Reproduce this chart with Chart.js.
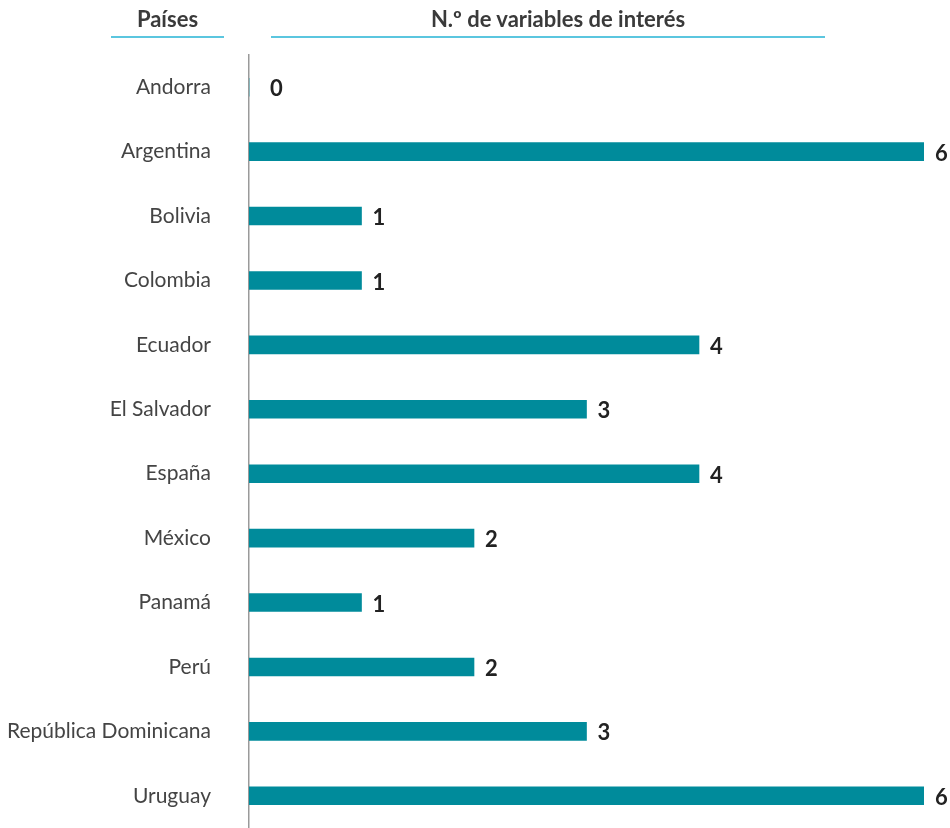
<!DOCTYPE html>
<html>
<head>
<meta charset="utf-8">
<script src="https://cdn.jsdelivr.net/npm/chart.js@4/dist/chart.umd.min.js"></script>
<style>
  html, body { margin: 0; padding: 0; background: #fff; }
  #wrap { position: relative; width: 950px; height: 828px; }
  #chart { position: absolute; left: 0; top: 0; }
  .hdr { position: absolute; top: 5px; font-family: Lato, sans-serif; font-weight: bold; font-size: 22px; line-height: 28px; color: #3a3a3a; text-align: center; border-bottom: 2px solid #5bc6df; padding-bottom: 3px; }
</style>
</head>
<body>
<div id="wrap">
  <canvas id="chart" width="950" height="828"></canvas>
  <div class="hdr" style="left:111px; width:113px;">Países</div>
  <div class="hdr" style="left:271px; width:554px;"><span style="position:relative; left:10px;">N.º de variables de interés</span></div>
</div>
<script>
const categories = ["Andorra", "Argentina", "Bolivia", "Colombia", "Ecuador", "El Salvador", "España", "México", "Panamá", "Perú", "República Dominicana", "Uruguay"];
const values = [0, 6, 1, 1, 4, 3, 4, 2, 1, 2, 3, 6];
const axisMin = 0;
const axisMax = 6;

const valueLabels = {
  id: 'valueLabels',
  afterDatasetsDraw(chart) {
    const ctx = chart.ctx;
    const meta = chart.getDatasetMeta(0);
    ctx.save();
    ctx.font = 'bold 22px Lato, sans-serif';
    ctx.fillStyle = '#222222';
    ctx.textAlign = 'left';
    ctx.textBaseline = 'middle';
    meta.data.forEach((bar, i) => {
      const v = values[i];
      const off = v === 0 ? 21 : 11;
      ctx.fillText(String(v), bar.x + off, bar.y + 2);
    });
    ctx.restore();
  }
};

new Chart(document.getElementById('chart'), {
  type: 'bar',
  data: {
    labels: categories,
    datasets: [{
      data: values,
      backgroundColor: '#008b9b',
      borderWidth: 0,
      barThickness: 18
    }]
  },
  options: {
    indexAxis: 'y',
    responsive: false,
    animation: false,
    layout: { padding: { top: 55, right: 26, bottom: 0, left: 0 } },
    plugins: { legend: { display: false }, tooltip: { enabled: false } },
    scales: {
      x: { display: false, min: axisMin, max: axisMax },
      y: {
        grid: { display: false, drawTicks: false },
        border: { display: true, color: '#9a9a9a', width: 1.5 },
        ticks: { color: '#444444', font: { family: 'Lato', size: 21 }, padding: 38 },
        afterFit(scale) { scale.width = 249; scale.paddingTop = 0; scale.paddingBottom = 0; }
      }
    }
  },
  plugins: [valueLabels]
});
</script>
</body>
</html>
